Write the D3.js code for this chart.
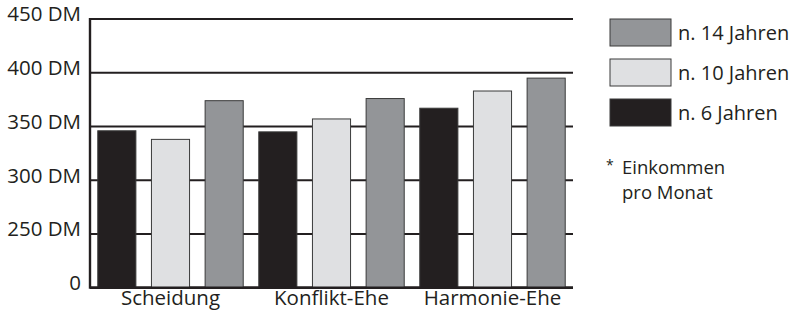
<!DOCTYPE html>
<html>
<head>
<meta charset="utf-8">
<script src="https://cdn.jsdelivr.net/npm/d3@7"></script>
<style>
  body { margin: 0; background: #fff; }
  text { font-family: "Open Sans", sans-serif; fill: #231f20; }
</style>
</head>
<body>
<div id="chart"></div>
<script>
// categories and series (Einkommen pro Monat, DM)
var groups = ["Scheidung", "Konflikt-Ehe", "Harmonie-Ehe"];
var seriesNames = ["n. 6 Jahren", "n. 10 Jahren", "n. 14 Jahren"];
var n6 = [346, 345, 367];
var n10 = [338, 357, 383];
var n14 = [374, 376, 395];
var yTicks = [200, 250, 300, 350, 400, 450];
var yTickLabels = ["0", "250 DM", "300 DM", "350 DM", "400 DM", "450 DM"];
var noteLines = ["Einkommen", "pro Monat"];
var colors = ["#231f20", "#dfe0e2", "#939598"];

var width = 791, height = 310;
var margin = { top: 19, right: 218, bottom: 22, left: 90 };

var svg = d3.select("#chart").append("svg")
  .attr("width", width)
  .attr("height", height);

// axis is broken: bottom line is labelled 0, scale runs 200..450
var y = d3.scaleLinear().domain([200, 450]).range([height - margin.bottom - 0.3, margin.top]);
var x0 = d3.scaleBand().domain(groups).range([margin.left, width - margin.right]);
var x1 = d3.scaleBand().domain(seriesNames).range([0, x0.bandwidth()])
  .paddingInner(0.29).paddingOuter(0.145);

var rows = groups.map(function (g, i) {
  return { group: g, values: [n6[i], n10[i], n14[i]] };
});

// grid lines
svg.append("g")
  .selectAll("line")
  .data(yTicks)
  .enter()
  .append("line")
  .attr("x1", margin.left)
  .attr("x2", width - margin.right)
  .attr("y1", function (d) { return y(d); })
  .attr("y2", function (d) { return y(d); })
  .attr("stroke", "#231f20")
  .attr("stroke-width", function (d) { return d === 200 ? 2.6 : 2; });

// y tick labels
svg.append("g")
  .selectAll("text")
  .data(yTicks)
  .enter()
  .append("text")
  .attr("x", 81)
  .attr("y", function (d) { return y(d); })
  .attr("dy", "0.12em")
  .attr("text-anchor", "end")
  .style("font-size", "20.5px")
  .text(function (d, i) { return yTickLabels[i]; });

// bars
var g = svg.append("g")
  .selectAll("g")
  .data(rows)
  .enter()
  .append("g")
  .attr("transform", function (d) { return "translate(" + x0(d.group) + ",0)"; });

g.selectAll("rect")
  .data(function (d) { return d.values.map(function (v, i) { return { key: seriesNames[i], value: v, i: i }; }); })
  .enter()
  .append("rect")
  .attr("x", function (d) { return x1(d.key); })
  .attr("width", x1.bandwidth())
  .attr("y", function (d) { return y(d.value); })
  .attr("height", function (d) { return y(200) - y(d.value); })
  .attr("fill", function (d) { return colors[d.i]; })
  .attr("stroke", "#3a3a3a")
  .attr("stroke-width", 1);

// y axis line
svg.append("line")
  .attr("x1", margin.left)
  .attr("x2", margin.left)
  .attr("y1", y(450) - 1)
  .attr("y2", y(200) + 1)
  .attr("stroke", "#231f20")
  .attr("stroke-width", 2.4);

// baseline on top
svg.append("line")
  .attr("x1", margin.left)
  .attr("x2", width - margin.right)
  .attr("y1", y(200))
  .attr("y2", y(200))
  .attr("stroke", "#231f20")
  .attr("stroke-width", 2.6);

// category labels
svg.append("g")
  .selectAll("text")
  .data(groups)
  .enter()
  .append("text")
  .attr("x", function (d) { return x0(d) + x0.bandwidth() / 2; })
  .attr("y", 305)
  .attr("text-anchor", "middle")
  .style("font-size", "20.5px")
  .text(function (d) { return d; });

// legend (reverse order)
var legendItems = seriesNames.map(function (s, i) { return { name: s, color: colors[i] }; }).reverse();
var legend = svg.append("g")
  .selectAll("g")
  .data(legendItems)
  .enter()
  .append("g")
  .attr("transform", function (d, i) { return "translate(610," + (19 + i * 40) + ")"; });

legend.append("rect")
  .attr("width", 61)
  .attr("height", 27)
  .attr("fill", function (d) { return d.color; })
  .attr("stroke", "#3a3a3a")
  .attr("stroke-width", 1);

legend.append("text")
  .attr("x", 68)
  .attr("y", 13.5)
  .attr("dy", "0.36em")
  .style("font-size", "20px")
  .text(function (d) { return d.name; });

// note
svg.append("text")
  .attr("x", 606)
  .attr("y", 170)
  .style("font-size", "14px")
  .text("*");
svg.append("g")
  .selectAll("text")
  .data(noteLines)
  .enter()
  .append("text")
  .attr("x", 622)
  .attr("y", function (d, i) { return 174 + i * 25; })
  .style("font-size", "18.5px")
  .text(function (d) { return d; });
</script>
</body>
</html>
